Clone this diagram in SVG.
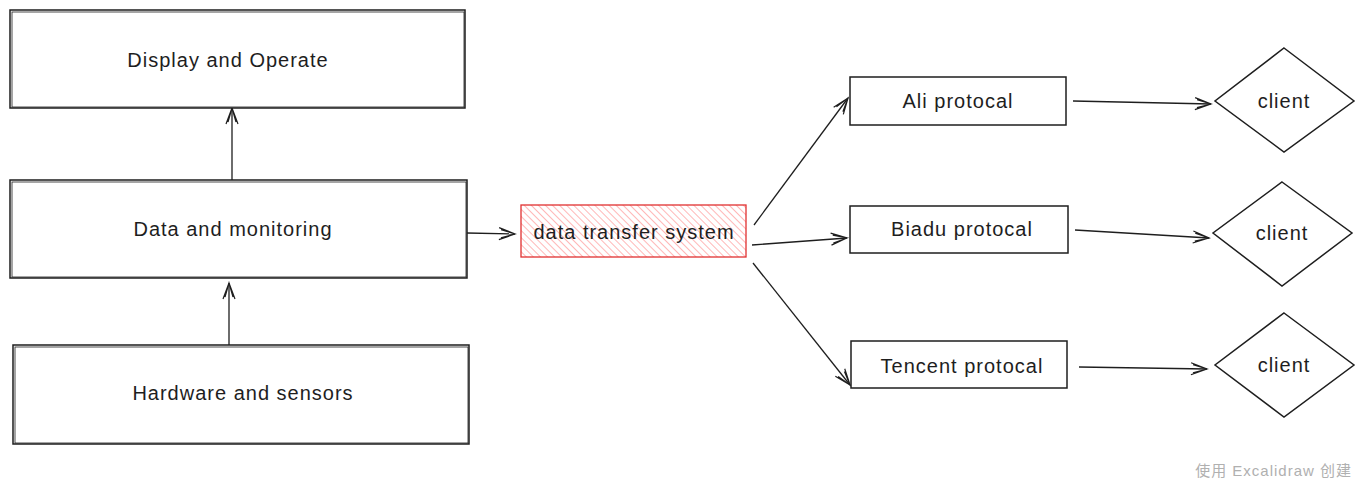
<svg xmlns="http://www.w3.org/2000/svg" width="1362" height="482" viewBox="0 0 1362 482">
<defs>
<marker id="arr" viewBox="0 0 20 20" refX="18" refY="10" markerWidth="20" markerHeight="20" markerUnits="userSpaceOnUse" orient="auto">
<path d="M2,4 L18,10 L2,16 M4,6 L18,10 L4,14" fill="none" stroke="#1e1e1e" stroke-width="1.2"/>
</marker>
<pattern id="hatch" width="5" height="5" patternUnits="userSpaceOnUse" patternTransform="rotate(-45)">
<line x1="0" y1="0" x2="0" y2="5" stroke="#ff8f8f" stroke-width="1.3"/>
</pattern>
<style>
.box{fill:#fff;stroke:#1e1e1e;stroke-width:1.5}
.box2{fill:none;stroke:#1e1e1e;stroke-width:0.8}
.t{font-family:"Liberation Sans",Arial,sans-serif;font-size:20px;letter-spacing:1px;fill:#1e1e1e;text-anchor:middle;dominant-baseline:central}
.c{fill:none;stroke:#1e1e1e;stroke-width:1.3}
</style>
</defs>
<rect width="1362" height="482" fill="#fff"/>
<g id="connectors">
<line class="c" x1="232" y1="180" x2="232" y2="108" marker-end="url(#arr)"/>
<line class="c" x1="229" y1="345" x2="229" y2="283" marker-end="url(#arr)"/>
<line class="c" x1="467" y1="233" x2="515" y2="234" marker-end="url(#arr)"/>
<line class="c" x1="754" y1="225" x2="848" y2="98" marker-end="url(#arr)"/>
<line class="c" x1="752" y1="245" x2="847" y2="238" marker-end="url(#arr)"/>
<line class="c" x1="753" y1="263" x2="850" y2="385" marker-end="url(#arr)"/>
<line class="c" x1="1073" y1="101" x2="1211" y2="104" marker-end="url(#arr)"/>
<line class="c" x1="1075" y1="230" x2="1209" y2="238" marker-end="url(#arr)"/>
<line class="c" x1="1079" y1="367" x2="1207" y2="369" marker-end="url(#arr)"/>
</g>
<g id="display">
<rect class="box" x="10" y="10" width="455" height="98"/>
<rect class="box2" x="12" y="12" width="452" height="95"/>
<text class="t" x="228" y="60">Display and Operate</text>
</g>
<g id="data">
<rect class="box" x="10" y="180" width="457" height="98"/>
<rect class="box2" x="12" y="182" width="454" height="95"/>
<text class="t" x="233" y="229">Data and monitoring</text>
</g>
<g id="hardware">
<rect class="box" x="13" y="345" width="456" height="99"/>
<rect class="box2" x="15" y="347" width="453" height="96"/>
<text class="t" x="243" y="393">Hardware and sensors</text>
</g>
<g id="transfer">
<rect x="521" y="205" width="225" height="52" fill="url(#hatch)" stroke="#e03131" stroke-width="1.3"/>
<text class="t" x="634" y="232">data transfer system</text>
</g>
<g id="ali">
<rect class="box" x="850" y="77" width="216" height="48"/>
<text class="t" x="958" y="101">Ali protocal</text>
</g>
<g id="baidu">
<rect class="box" x="850" y="206" width="218" height="47"/>
<text class="t" x="962" y="229">Biadu protocal</text>
</g>
<g id="tencent">
<rect class="box" x="851" y="341" width="216" height="47"/>
<text class="t" x="962" y="366">Tencent protocal</text>
</g>
<g id="client1">
<polygon class="box" points="1284,48 1354,101 1284,152 1215,101"/>
<text class="t" x="1284" y="101">client</text>
</g>
<g id="client2">
<polygon class="box" points="1282,182 1352,233 1282,286 1213,233"/>
<text class="t" x="1282" y="233">client</text>
</g>
<g id="client3">
<polygon class="box" points="1284,313 1354,365 1284,417 1215,365"/>
<text class="t" x="1284" y="365">client</text>
</g>
<text x="1352" y="476" font-family="'Liberation Sans','Noto Sans CJK SC',sans-serif" font-size="15" letter-spacing="1" fill="#b0b0b0" text-anchor="end">使用 Excalidraw 创建</text>
</svg>
